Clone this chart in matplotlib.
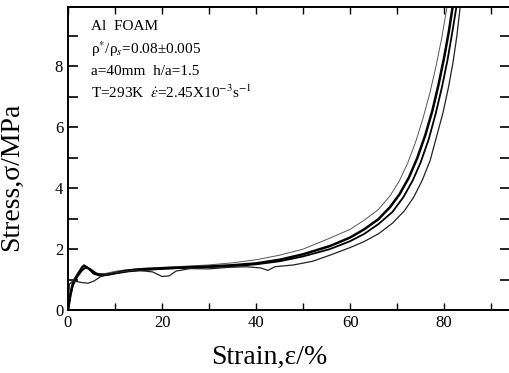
import matplotlib
matplotlib.use("Agg")
import matplotlib.pyplot as plt
from matplotlib.ticker import MultipleLocator

plt.rcParams['font.family'] = ['Liberation Serif', 'DejaVu Serif']
plt.rcParams['mathtext.fontset'] = 'stix'

# ---- data ----
strain_a = [0, 0.5, 1, 2, 3, 3.8, 5, 6.5, 8, 10, 13, 16, 20, 25, 30, 35, 40, 45, 50, 55.7, 60, 63, 66, 68.5, 70.5, 72.3, 74, 75.5, 77, 78.3, 79.5, 80.6]
stress_a = [0, 0.6, 0.95, 1.2, 1.33, 1.4, 1.3, 1.2, 1.2, 1.27, 1.33, 1.37, 1.4, 1.44, 1.48, 1.55, 1.65, 1.8, 2.0, 2.36, 2.65, 2.95, 3.3, 3.75, 4.25, 4.85, 5.55, 6.3, 7.15, 8.03, 8.95, 9.95]

strain_b = [0, 0.5, 1, 2, 3, 3.4, 4.5, 5.5, 7, 9, 12, 15, 20, 25, 30, 35, 40, 45, 50, 55.7, 60, 63, 66, 68.5, 70.5, 72.5, 74.3, 76, 77.5, 78.8, 80, 81, 81.8]
stress_b = [0, 0.5, 0.85, 1.15, 1.4, 1.46, 1.35, 1.2, 1.13, 1.18, 1.28, 1.33, 1.37, 1.4, 1.43, 1.47, 1.53, 1.65, 1.83, 2.1, 2.38, 2.65, 2.98, 3.38, 3.8, 4.35, 5.0, 5.75, 6.55, 7.4, 8.3, 9.15, 9.95]

strain_c = [0, 0.5, 1, 2, 3, 3.8, 5, 6, 8, 10, 13, 17, 20, 24, 28, 32, 36, 40, 45, 50, 55.7, 60, 63, 66, 69, 71.3, 73.3, 75, 76.7, 78.2, 79.5, 80.7, 81.7, 82.6]
stress_c = [0, 0.45, 0.8, 1.1, 1.3, 1.4, 1.32, 1.18, 1.15, 1.2, 1.27, 1.32, 1.35, 1.38, 1.4, 1.42, 1.45, 1.5, 1.6, 1.76, 2.0, 2.26, 2.5, 2.82, 3.22, 3.7, 4.25, 4.85, 5.6, 6.45, 7.3, 8.2, 9.1, 9.95]

strain_d = [0, 0.3, 1, 2, 3, 4.3, 5.5, 7, 9, 12, 15, 18, 20, 21.5, 23, 26, 30, 34, 38, 41, 42.5, 44, 48, 52, 55.7, 60, 63, 66, 69, 71.5, 73.5, 75.3, 77, 78.3, 79.7, 80.9, 81.9, 82.7, 83.4]
stress_d = [0, 0.85, 0.95, 0.93, 0.9, 0.88, 0.95, 1.1, 1.2, 1.27, 1.3, 1.25, 1.1, 1.12, 1.28, 1.36, 1.35, 1.4, 1.42, 1.38, 1.3, 1.42, 1.48, 1.6, 1.8, 2.05, 2.25, 2.5, 2.85, 3.25, 3.7, 4.25, 4.9, 5.65, 6.45, 7.3, 8.15, 9.0, 9.95]

x_ticks = [0, 20, 40, 60, 80]
y_ticks = [0, 2, 4, 6, 8]

fig = plt.figure(figsize=(5.10, 3.73), dpi=100)
ax = fig.add_axes([68/510, 63/373, 442/510, 303/373])

ax.plot(strain_a, stress_a, color='#555555', lw=0.7)
ax.plot(strain_b, stress_b, color='black', lw=1.8)
ax.plot(strain_c, stress_c, color='black', lw=1.3)
ax.plot(strain_d, stress_d, color='#222222', lw=0.9)

ax.set_xlim(0, 94)
ax.set_ylim(0, 9.95)
ax.set_xticks(x_ticks)
ax.set_yticks(y_ticks)
ax.xaxis.set_minor_locator(MultipleLocator(10))
ax.yaxis.set_minor_locator(MultipleLocator(1))

ax.tick_params(axis='both', which='both', direction='in', labelsize=12)
ax.tick_params(axis='x', which='both', top=True, length=5, width=1)
ax.tick_params(axis='y', which='both', left=True, right=True, length=7, width=1.2)
for s in ['left', 'bottom', 'top']:
    ax.spines[s].set_linewidth(1.4)
ax.spines['right'].set_visible(False)

ax.set_xlabel('Strain,ε/%', fontsize=20)
ax.set_ylabel('Stress,σ/MPa', fontsize=20)
ax.xaxis.set_label_coords(0.456, -0.115)
ax.yaxis.set_label_coords(-0.10, 0.44)

ann = ["Al  FOAM",
       "ρ$^{*}$/ρ$_{s}$=0.08±0.005",
       "a=40mm  h/a=1.5",
       r"T=293K  $\dot{\varepsilon}$=2.45X10$^{-3}$s$^{-1}$"]
ys = [0.935, 0.862, 0.786, 0.718]
for t, y in zip(ann, ys):
    ax.text(0.053, y, t, transform=ax.transAxes, fontsize=11, va='center', ha='left')

fig.savefig('out.png', dpi=100)
